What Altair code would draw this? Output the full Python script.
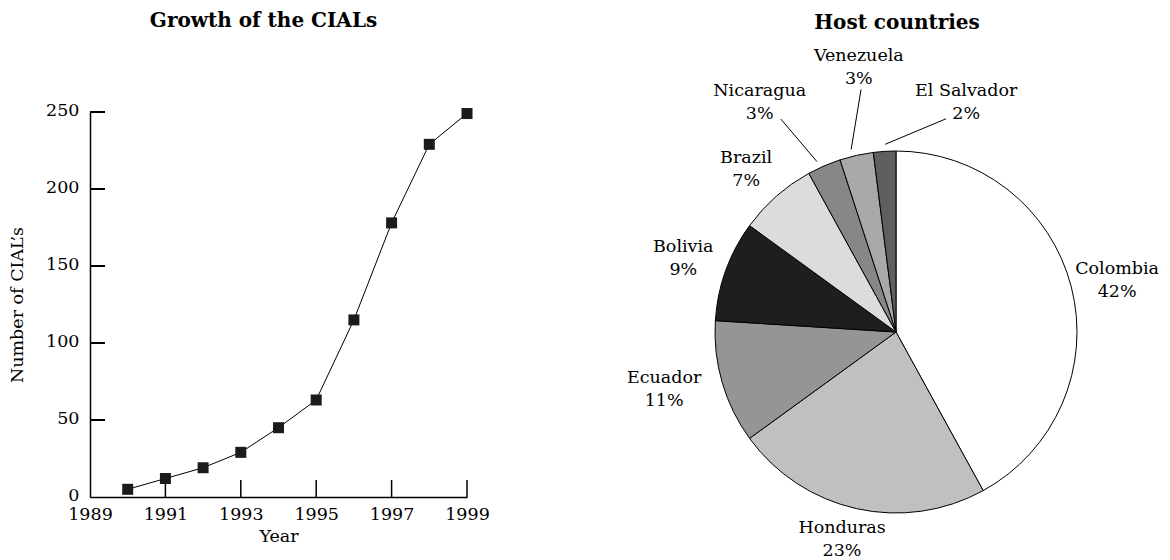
import altair as alt
import pandas as pd

# ---------------- data ----------------
years = [1990, 1991, 1992, 1993, 1994, 1995, 1996, 1997, 1998, 1999]
cials = [5, 12, 19, 29, 45, 63, 115, 178, 229, 249]
year_ticks = [1989, 1991, 1993, 1995, 1997, 1999]
count_ticks = [0, 50, 100, 150, 200, 250]

countries = ["Colombia", "Honduras", "Ecuador", "Bolivia", "Brazil",
             "Nicaragua", "Venezuela", "El Salvador"]
shares = [42, 23, 11, 9, 7, 3, 3, 2]

# ---------------- styles / layout ----------------
FONT = "DejaVu Serif"
TXT = 17.5
LINE_H = 23
slice_colors = ["#ffffff", "#c0c0c0", "#959595", "#1e1e1e", "#dcdcdc",
                "#878787", "#a9a9a9", "#5f5f5f"]
# label placement: (angle shift from slice middle in degrees, radius px)
label_layout = {
    "Colombia": (1.3, 227), "Honduras": (2.0, 214), "Ecuador": (2.2, 239),
    "Bolivia": (-0.8, 225), "Brazil": (-1.3, 221), "Nicaragua": (-7.3, 267),
    "Venezuela": (4.6, 267), "El Salvador": (20.6, 240),
}
# leader lines: (inner shift deg, inner r, outer shift deg, outer r)
leader_layout = {
    "Nicaragua": (-1.5, 188, -5.0, 242),
    "Venezuela": (-1.2, 188, 4.4, 245),
    "El Salvador": (0.3, 188, 16.8, 219),
}

W1, H1 = 377, 385
W2, H2 = 560, 385
CX, CY, R = 297, 220, 181

# ---------------- left: growth line ----------------
line_df = pd.DataFrame({"year": years, "n": cials})
xs = alt.Scale(domain=[1989, 1999], nice=False, zero=False)
ys = alt.Scale(domain=[0, 250], nice=False)

x_axis = alt.Axis(values=year_ticks, format="d", title="Year", ticks=False,
                  grid=False, labelPadding=8, titlePadding=5, labelFlush=False,
                  labelOverlap=False, domainWidth=1.5)
y_axis = alt.Axis(values=count_ticks, title="Number of CIAL’s", ticks=False,
                  grid=False, labelPadding=11, titlePadding=19, labelOffset=-2,
                  labelOverlap=False, domainWidth=1.5)

base = alt.Chart(line_df)
line = base.mark_line(color="black", strokeWidth=1).encode(
    x=alt.X("year:Q", scale=xs, axis=x_axis),
    y=alt.Y("n:Q", scale=ys, axis=y_axis),
)
pts = base.mark_square(size=121, color="#1b1b1b", opacity=1).encode(
    x=alt.X("year:Q", scale=xs, title="Year"),
    y=alt.Y("n:Q", scale=ys, title="Number of CIAL’s"),
)
ytick = alt.Chart(pd.DataFrame({"v": count_ticks[1:]})).mark_rule(
    color="black", strokeWidth=2).encode(
    y=alt.Y("v:Q", scale=ys, title="Number of CIAL’s"),
    x=alt.value(0), x2=alt.value(15),
)
xtick = alt.Chart(pd.DataFrame({"v": year_ticks[1:]})).mark_rule(
    color="black", strokeWidth=1.5).encode(
    x=alt.X("v:Q", scale=xs, title="Year"),
    y=alt.value(H1), y2=alt.value(H1 - 17),
)
left = alt.layer(line, xtick, ytick, pts).properties(
    width=W1, height=H1,
    title=alt.TitleParams("Growth of the CIALs", offset=70, frame="group", dx=-15),
)

# ---------------- right: pie ----------------
pie_df = pd.DataFrame({
    "country": countries,
    "share": shares,
    "order": list(range(len(countries))),
})
pie_df["lab_shift"] = [label_layout[c][0] for c in countries]
pie_df["lab_r"] = [label_layout[c][1] for c in countries]
pie_df["in_shift"] = [leader_layout.get(c, (None,) * 4)[0] for c in countries]
pie_df["in_r"] = [leader_layout.get(c, (None,) * 4)[1] for c in countries]
pie_df["out_shift"] = [leader_layout.get(c, (None,) * 4)[2] for c in countries]
pie_df["out_r"] = [leader_layout.get(c, (None,) * 4)[3] for c in countries]

pbase = alt.Chart(pie_df)
arcs = pbase.mark_arc(radius=R, stroke="black", strokeWidth=1).encode(
    theta=alt.Theta("share:Q", stack=True),
    order=alt.Order("order:Q"),
    color=alt.Color("country:N", scale=alt.Scale(domain=countries, range=slice_colors),
                    legend=None),
    x=alt.value(CX), y=alt.value(CY),
)

pcalc = pbase.transform_window(
    cum="sum(share)", sort=[alt.SortField("order")], frame=[None, 0]
).transform_joinaggregate(total="sum(share)").transform_calculate(
    mid="(datum.cum - datum.share / 2) / datum.total * 2 * PI"
)

labels = pcalc.transform_calculate(
    la="datum.mid + datum.lab_shift * PI / 180"
).transform_calculate(
    lx=f"{CX} + datum.lab_r * sin(datum.la)",
    ly=f"{CY} - datum.lab_r * cos(datum.la)",
    label="datum.country + '\\n' + datum.share + '%'",
).mark_text(font=FONT, fontSize=TXT, lineBreak="\n", lineHeight=LINE_H,
            dy=-LINE_H / 2, align="center", baseline="middle", color="black").encode(
    x=alt.X("lx:Q", scale=None, axis=None),
    y=alt.Y("ly:Q", scale=None, axis=None),
    text="label:N",
)

leaders = pcalc.transform_filter("isValid(datum.out_r)").transform_calculate(
    a1="datum.mid + datum.in_shift * PI / 180",
    a2="datum.mid + datum.out_shift * PI / 180",
).transform_calculate(
    x1=f"{CX} + datum.in_r * sin(datum.a1)",
    y1=f"{CY} - datum.in_r * cos(datum.a1)",
    x2=f"{CX} + datum.out_r * sin(datum.a2)",
    y2=f"{CY} - datum.out_r * cos(datum.a2)",
).mark_rule(color="black", strokeWidth=1).encode(
    x=alt.X("x1:Q", scale=None, axis=None),
    y=alt.Y("y1:Q", scale=None, axis=None),
    x2="x2:Q", y2="y2:Q",
)

right = alt.layer(arcs, leaders, labels).properties(
    width=W2, height=H2,
    title=alt.TitleParams("Host countries", offset=14, frame="group", dx=18),
)

chart = alt.hconcat(left, right, spacing=108).properties(
    padding={"top": 2, "left": 0, "right": 0, "bottom": 0}
).configure_view(
    stroke="transparent"
).configure_axis(
    labelFont=FONT, titleFont=FONT, labelFontSize=TXT, titleFontSize=TXT,
    labelColor="black", titleColor="black", titleFontWeight="normal",
    domainColor="black",
).configure_title(
    font=FONT, fontSize=20, fontWeight="bold", color="black", anchor="middle"
)

chart.save("out.html", embed_options={"renderer": "svg", "actions": False})
